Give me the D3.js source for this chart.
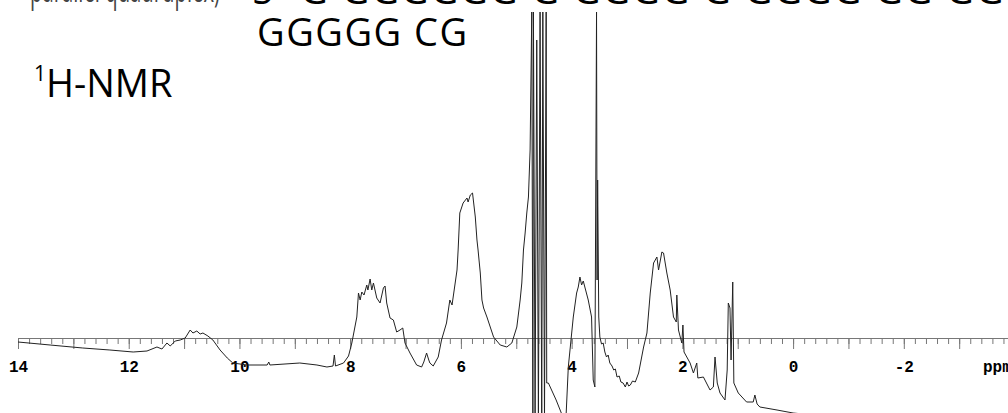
<!DOCTYPE html>
<html lang="en">
<head>
  <meta charset="UTF-8">
  <title>1H-NMR</title>
  <script src="https://cdn.jsdelivr.net/npm/d3@7"></script>
  <style>
    body { margin: 0; background: #fff; }
    svg { display: block; }
  </style>
</head>
<body>
<script>
let width = 1008;
let height = 413;

// chemical shift (ppm) and signal intensity (arbitrary units, 0 = axis line)
let ppm = [14.0, 13.42, 12.83, 12.34, 11.92, 11.67, 11.49, 11.40, 11.31, 11.25,
  11.16, 11.07, 10.98, 10.89, 10.84, 10.77, 10.71, 10.66, 10.57, 10.48,
  10.35, 10.22, 10.12, 9.86, 9.50, 9.47, 9.45, 8.91, 8.60, 8.42,
  8.31, 8.286, 8.265, 8.12, 8.03, 7.97, 7.88, 7.85, 7.82, 7.79,
  7.75, 7.70, 7.68, 7.64, 7.61, 7.58, 7.52, 7.46, 7.40, 7.37,
  7.34, 7.28, 7.22, 7.16, 7.10, 7.05, 7.01, 6.92, 6.80, 6.71,
  6.67, 6.62, 6.58, 6.56, 6.50, 6.41, 6.35, 6.26, 6.20, 6.16,
  6.07, 6.05, 6.02, 5.96, 5.89, 5.87, 5.83, 5.79, 5.74, 5.71,
  5.69, 5.65, 5.62, 5.59, 5.53, 5.41, 5.29, 5.17, 5.08, 4.99,
  4.93, 4.90, 4.87, 4.84, 4.81, 4.78, 4.75, 4.72, 4.70, 4.69,
  4.66, 4.63, 4.60, 4.57, 4.54, 4.52, 4.49, 4.46, 4.45, 4.42,
  4.28, 4.15, 4.10, 4.06, 3.97, 3.91, 3.88, 3.85, 3.82, 3.79,
  3.70, 3.64, 3.61, 3.58, 3.55, 3.54, 3.53, 3.51,
  3.49, 3.46, 3.43, 3.40, 3.37, 3.34, 3.31, 3.27, 3.24, 3.21,
  3.18, 3.14, 3.11, 3.07, 3.03, 3.00, 2.97, 2.94, 2.90, 2.85, 2.79,
  2.70, 2.64, 2.58,
  2.52, 2.46, 2.43, 2.37, 2.34, 2.28, 2.22, 2.16, 2.11, 2.10,
  2.07, 2.01, 1.99, 1.97, 1.86, 1.80, 1.74, 1.72, 1.62, 1.50,
  1.44, 1.41, 1.37, 1.32, 1.23, 1.19, 1.17, 1.14, 1.12, 1.09,
  1.07, 0.99, 0.84, 0.72, 0.69, 0.65, 0.60, 0.29, 0.0, -0.18,
  -1.03];

let intensity = [-4, -7, -10, -12, -14, -13, -9, -11, -5, -8,
  -3, -2, 0, 8, 5, 7, 4, 5, 2, -2,
  -12, -20, -25, -27, -27, -24, -27, -25, -27, -29,
  -28, -17, -28, -25, -18, -5, 21, 45, 38, 46,
  43, 53, 48, 59, 48, 55, 40, 35, 50, 52,
  35, 20, 18, 6, 8, 10, -5, -15, -27, -29,
  -24, -15, -22, -25, -28, -19, -2, 15, 38, 33,
  68, 88, 125, 135, 140, 136, 143, 145, 121, 98,
  88, 65, 38, 30, 21, 1, -7, -9, -5, 11,
  38, 55, 88, 105, 125, 141, 188, 326, -82, 326,
  -82, 298, -82, 326, -82, 326, -82, 326, -45, -45,
  -62, -80, -77, -29, 21, 45, 51, 61, 53, 57,
  38, 21, -42, -49, 326, 58, 158, 21,
  1, -6, -5, -14, -19, -17, -25, -28, -32, -31,
  -39, -38, -44, -45, -49, -44, -48, -47, -43, -44, -35,
  -9, 5, 45,
  75, 81, 68, 86, 85, 65, 48, 21, 16, 43,
  8, -5, 13, -14, -25, -35, -25, -40, -39, -52,
  -49, -19, -45, -55, -62, -32, 35, 30, -22, 56,
  -45, -55, -64, -64, -57, -66, -69, -72, -75, -76,
  -84];

let majorTicks = d3.range(14, -4, -1);
let minorTicks = d3.range(0, 90).map(i => +(14 - i * 0.2).toFixed(1));
let tickLabels = [14, 12, 10, 8, 6, 4, 2, 0, -2];

let svg = d3.select('body')
  .append('svg')
  .attr('width', width)
  .attr('height', height);

let x = d3.scaleLinear()
  .domain([14, -3.9])
  .range([18, 1009]);

let y = d3.scaleLinear()
  .domain([0, 100])
  .range([338, 238]);

// titles (top line is cut by the frame in the original)
svg.append('text')
  .attr('x', 30)
  .attr('y', 2)
  .attr('textLength', 190)
  .attr('lengthAdjust', 'spacingAndGlyphs')
  .attr('fill', '#444')
  .style('font-family', 'Open Sans, sans-serif')
  .style('font-size', '38px')
  .text('parallel quadruplex)');

svg.append('text')
  .attr('x', 252)
  .attr('y', 4)
  .style('font-family', 'Open Sans, sans-serif')
  .style('font-size', '38px')
  .style('letter-spacing', '2px')
  .text("5'-G GGGGGG G GGGG G GGGG GG GGGG GGGGG");

svg.append('text')
  .attr('x', 257)
  .attr('y', 46)
  .style('font-family', 'Open Sans, sans-serif')
  .style('font-size', '38px')
  .style('letter-spacing', '1.5px')
  .text('GGGGG CG');

let nmr = svg.append('text')
  .attr('x', 34)
  .attr('y', 97)
  .style('font-family', 'Open Sans, sans-serif')
  .style('font-size', '38px');
nmr.append('tspan')
  .style('font-size', '21px')
  .attr('dy', -16)
  .text('1');
nmr.append('tspan')
  .attr('dy', 16)
  .text('H-NMR');

// axis
let minorAxis = d3.axisBottom(x)
  .tickValues(minorTicks)
  .tickSize(6)
  .tickSizeOuter(0)
  .tickFormat('');

let majorAxis = d3.axisBottom(x)
  .tickValues(majorTicks)
  .tickSize(11)
  .tickSizeOuter(0)
  .tickFormat(d => tickLabels.includes(d) ? String(d) : '');

svg.append('g')
  .attr('class', 'minor-axis')
  .attr('transform', 'translate(0,' + y(0) + ')')
  .call(minorAxis);

let gMajor = svg.append('g')
  .attr('class', 'major-axis')
  .attr('transform', 'translate(0,' + y(0) + ')')
  .call(majorAxis);

svg.selectAll('.minor-axis .domain, .major-axis .domain')
  .attr('stroke', '#777');
svg.selectAll('.minor-axis line, .major-axis line')
  .attr('stroke', '#777');

gMajor.selectAll('text')
  .attr('y', 34)
  .attr('dy', 0)
  .attr('fill', '#000')
  .style('font-family', 'Liberation Mono, monospace')
  .style('font-weight', 'bold')
  .style('font-size', '16px');

svg.append('text')
  .attr('x', x(-3.43))
  .attr('y', y(0) + 34)
  .style('font-family', 'Liberation Mono, monospace')
  .style('font-weight', 'bold')
  .style('font-size', '16px')
  .text('ppm');

// spectrum
let points = ppm.map((p, i) => [p, intensity[i]]);

let line = d3.line()
  .x(d => x(d[0]))
  .y(d => y(d[1]));

svg.append('path')
  .datum(points)
  .attr('fill', 'none')
  .attr('stroke', '#222')
  .attr('stroke-width', 1)
  .attr('d', line);
</script>
</body>
</html>
